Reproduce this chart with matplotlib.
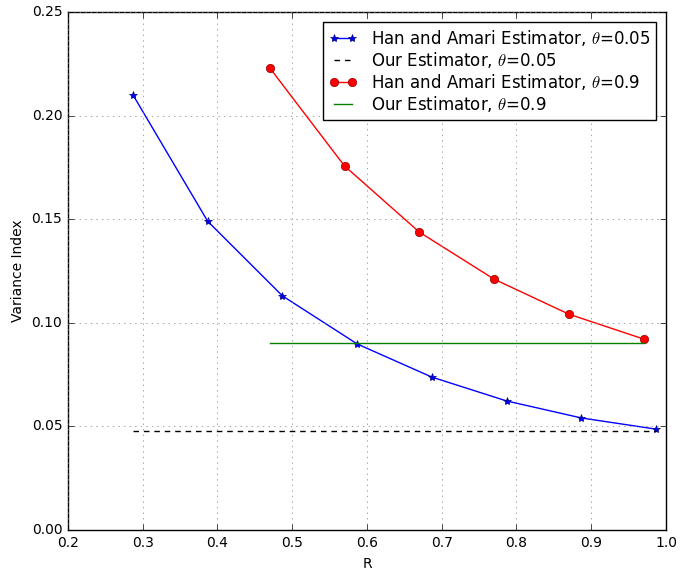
import matplotlib
matplotlib.use("Agg")
import matplotlib.pyplot as plt

plt.style.use('classic')
plt.rcParams['mathtext.fontset'] = 'cm'

r_blue = [0.287, 0.387, 0.487, 0.587, 0.687, 0.787, 0.887, 0.987]
han_005 = [0.210, 0.149, 0.113, 0.0898, 0.0738, 0.0623, 0.0541, 0.0487]
ours_005 = [0.0478] * len(r_blue)

r_red = [0.47, 0.57, 0.67, 0.77, 0.87, 0.97]
han_09 = [0.223, 0.1757, 0.1438, 0.1211, 0.1042, 0.0922]
ours_09 = [0.0902] * len(r_red)

fig = plt.figure(figsize=(6.93, 5.70), dpi=100, facecolor='white')
ax = fig.add_axes([0.098, 0.070, 0.863, 0.909])

ax.plot(r_blue, han_005, color='blue', marker='*', markersize=6, markeredgecolor='navy',
        label=r'Han and Amari Estimator, $\theta$=0.05')
ax.plot(r_blue, ours_005, color='black', linestyle='--', dashes=(4, 3.5),
        label=r'Our Estimator, $\theta$=0.05')
ax.plot(r_red, han_09, color='red', marker='o', markersize=6, markeredgecolor='darkred',
        label=r'Han and Amari Estimator, $\theta$=0.9')
ax.plot(r_red, ours_09, color='green', label=r'Our Estimator, $\theta$=0.9')

ax.set_xlim(0.2, 1.0)
ax.set_ylim(0.0, 0.25)
ax.set_xticks([0.2, 0.3, 0.4, 0.5, 0.6, 0.7, 0.8, 0.9, 1.0])
ax.set_yticks([0.0, 0.05, 0.10, 0.15, 0.20, 0.25])
ax.grid(True, linestyle=':', color='gray')
ax.tick_params(labelsize=10)
ax.set_xlabel('R', fontsize=10)
ax.set_ylabel('Variance Index', fontsize=10)
ax.legend(loc='upper right', fontsize=12, numpoints=2, fancybox=False,
          borderaxespad=0.6, labelspacing=0.12, handlelength=1.7, borderpad=0.35)

fig.savefig('out.png', dpi=100, facecolor='white')
